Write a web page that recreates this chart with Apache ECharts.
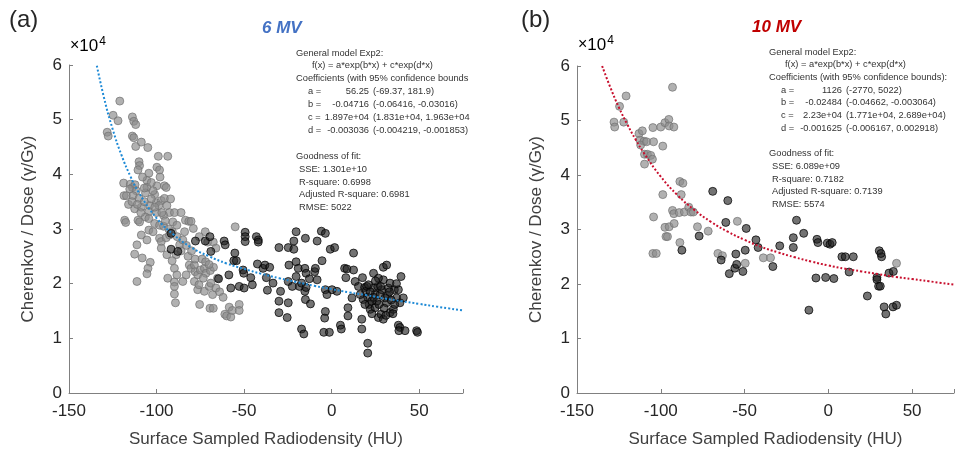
<!DOCTYPE html>
<html>
<head>
<meta charset="utf-8">
<script src="https://cdn.jsdelivr.net/npm/echarts@6/dist/echarts.min.js"></script>
<style>
html,body{margin:0;padding:0;background:#fff;}
#chart{width:957px;height:453px;}
</style>
</head>
<body>
<div id="chart"></div>
<script>
// ---- Data (y in units of 1e4 gamma/Gy) ----
const xTicks = [-150, -100, -50, 0, 50];
const yTicks = [0, 1, 2, 3, 4, 5, 6];

const mv6Light = [
[-121,5.34],[-124.8,5.08],[-122,4.98],[-128.2,4.77],[-127.6,4.70],[-113.8,5.05],[-113,4.97],[-111.9,4.91],
[-113.8,4.70],[-113,4.67],[-111.9,4.51],[-108.7,4.59],[-105,4.49],[-110,4.23],[-109.7,4.16],[-110.6,4.08],
[-99,4.33],[-93.6,4.33],[-99.8,4.13],[-98.3,4.08],[-104.4,4.02],[-118.8,3.84],[-115,3.82],[-113.8,3.76],
[-112.3,3.81],[-115.3,3.73],[-111.6,3.70],[-105.5,3.89],[-105.5,3.76],[-118.6,3.61],[-117.2,3.61],[-113.4,3.61],
[-110,3.56],[-106.3,3.66],[-101.1,3.63],[-99.8,3.79],[-95.5,3.79],[-94.5,3.76],[-100.2,3.48],[-97.3,3.52],
[-95.5,3.56],[-98.7,3.43],[-112.5,3.37],[-108.7,3.40],[-104,3.43],[-104.4,3.32],[-94.1,3.43],[-92.6,3.30],
[-89.8,3.30],[-86,3.30],[-96,3.25],[-106.4,3.22],[-104.4,3.19],[-110.6,3.16],[-109.7,3.13],[-118.2,3.16],
[-117.6,3.12],[-83.5,3.16],[-81.6,3.14],[-80.3,3.14],[-101.1,3.10],[-98.3,3.07],[-90.7,3.13],[-88.4,3.07],
[-79,3.01],[-104.4,2.98],[-108.7,2.89],[-105.5,2.80],[-98.3,2.83],[-97.3,2.77],[-94.5,2.84],[-92.6,2.89],
[-88.2,2.86],[-86.8,2.71],[-72.2,2.95],[-75.6,2.86],[-70.8,2.76],[-67.6,2.76],[-66.1,2.65],[-55.1,3.04],
[-111.2,2.71],[-112.5,2.54],[-108.2,2.47],[-103.6,2.39],[-97.3,2.65],[-94.1,2.53],[-88.8,2.53],[-91.1,2.42],
[-89.8,2.28],[-88.4,2.16],[-81.3,2.34],[-80.3,2.28],[-78.4,2.34],[-78,2.22],[-76.5,2.16],[-75,2.25],
[-72.7,2.28],[-71.8,2.19],[-69.3,2.24],[-67.5,2.30],[-104.9,2.28],[-105.5,2.18],[-111.2,2.04],[-93.6,2.10],
[-89.8,2.03],[-85,2.04],[-89.8,1.95],[-89.8,1.81],[-89.2,1.65],[-78.4,2.04],[-76.5,1.89],[-75.4,1.62],
[-72.7,1.86],[-69.9,1.95],[-68,1.80],[-69.5,1.55],[-67.6,1.55],[-61,1.44],[-60,1.41],[-57.6,1.39],
[-58.5,1.57],[-56.7,1.51],[-52.8,1.62],[-52.8,1.51],[-65.2,2.10],[-69,2.01],[-73.3,2.10],[-75.8,1.98],
[-83.1,2.16],[-66.1,1.92],[-108,3.95],[-102,3.70],[-107,3.50],[-100,3.30],[-96,3.05],[-102,2.95],
[-84,2.95],[-92,3.55],[-116,3.45],[-109,3.30],[-103,3.55],[-98,3.95],[-86,2.60],[-82,2.50],
[-114,3.50],[-111,3.45],[-107,3.75],[-103,3.85],[-101,3.40],[-97,3.30],[-95,3.15],[-93,3.00],
[-91,2.95],[-85,2.80],[-83,2.70],[-80,2.60],[-78,2.45],[-74,2.45],[-72,2.40],[-70,2.35],
[-64,1.85],[-62,1.75]
];
const mv6Dark = [
[-91.7,2.92],[-91.7,2.63],[-87.9,2.59],[-77.8,2.78],[-72.2,2.78],[-69.5,2.86],[-69,2.59],[-61.4,2.78],
[-60.8,2.71],[-55.3,2.56],[-64.6,2.09],[-58.7,2.16],[-55.9,2.42],[-54.4,2.42],[-50.6,2.25],[-50.2,2.19],
[-49.4,2.94],[-49.4,2.86],[-49.4,2.77],[-57.6,1.92],[-52.8,1.95],[-50,1.92],[-43,2.86],[-41.9,2.80],
[-41.9,2.76],[-42.4,2.36],[-39.2,2.28],[-38.1,2.34],[-35.4,2.30],[-33.5,2.01],[-30.1,2.66],[-30.1,1.68],
[-30.1,1.47],[-24.8,2.66],[-24.4,2.34],[-24.8,2.04],[-24.8,1.65],[-21.6,2.78],[-20.3,2.95],[-21.6,2.63],
[-20.3,2.40],[-19.1,2.28],[-20.3,2.13],[-18.4,1.95],[-17.2,2.01],[-15,2.83],[-15.3,2.28],[-14.6,2.19],
[-15.3,1.86],[-15,1.71],[-14.6,1.93],[-17.2,1.17],[-15.9,1.08],[-12.1,1.63],[-12.7,2.09],[-9.7,2.22],
[-8.3,2.78],[-9.3,2.28],[-8.3,2.07],[-5.5,2.42],[-5.9,2.96],[-3.6,2.92],[-3.6,1.89],[-2.7,1.80],
[-3.6,1.49],[-4,1.37],[-4.5,1.11],[-1.3,1.11],[-0.8,2.63],[1.7,2.66],[0.2,1.89],[3,1.86],
[5,1.24],[5.5,1.17],[7.4,2.28],[8.1,2.11],[9.3,1.56],[9.3,1.41],[12.5,2.56],[8.7,2.27],
[12.5,2.25],[13.4,2.04],[15.3,1.95],[17.2,1.17],[17.2,1.35],[17.6,2.11],[18.8,1.93],[19.5,1.86],
[20.6,1.75],[20.1,1.95],[21.4,1.62],[20.6,0.91],[20.6,0.73],[22,1.53],[22.9,1.68],[23.9,1.92],
[24.8,1.80],[25.8,1.68],[26.7,1.38],[28.2,1.44],[29.5,1.35],[27.7,1.80],[28.6,1.89],[29.5,2.07],
[30.5,1.74],[31.4,1.65],[29.5,2.30],[31.4,2.34],[32.4,1.92],[33.3,2.01],[33.3,1.47],[35.2,1.53],
[35.8,1.89],[37.1,1.74],[38.1,1.89],[39,1.65],[39.6,2.13],[40.9,1.74],[38.1,1.24],[39,1.20],
[38.4,1.14],[41.9,1.14],[48.5,1.14],[49,1.11],[24.8,1.56],[26.3,1.95],[23.9,2.19],[26.7,2.10],
[18,1.71],[11.6,1.74],[16.3,1.80],[-37.3,2.11],[-36.7,1.88],[-46.2,2.11],[-45.3,1.98],[-25.4,1.38],
[-29.2,1.86],[-22.5,1.95],
[22,1.85],[24,1.75],[27,1.62],[30,1.55],[32,1.78],[34,1.70],[36,1.62],[25,2.05],
[21,1.98],[28,1.95],[33,1.85],[19,1.62],[23,1.45],[31,1.42],[37,2.00],[35,1.45]
];
const mv10Light = [
[-127.9,4.97],[-127.5,4.88],[-124.6,5.26],[-120.7,5.45],[-122.1,4.97],[-113,4.76],[-111,4.81],[-112.4,4.64],
[-110,4.62],[-112,4.55],[-108.5,4.61],[-109.7,4.38],[-108,4.38],[-109.7,4.20],[-106,4.36],[-105,4.29],
[-104.7,4.87],[-104.3,4.61],[-100,4.88],[-98.8,4.53],[-97.5,4.96],[-95.2,5.02],[-95,4.90],[-92.2,4.88],
[-93,5.61],[-98.8,3.64],[-104.3,3.23],[-104.7,2.56],[-102.7,2.56],[-97.5,3.04],[-95,3.05],[-96.9,2.87],
[-96,2.87],[-93,3.35],[-92.2,3.29],[-92,3.11],[-89,3.31],[-88.6,3.88],[-86.8,3.85],[-87.8,3.64],
[-88.6,2.76],[-85.9,3.32],[-83.3,3.41],[-82,3.32],[-80.6,3.32],[-78.1,3.05],[-71.7,2.97],[-65.9,2.56],
[-63.2,2.52],[-54.3,3.15],[-49.6,2.38],[-38.8,2.48],[-34.5,2.48],[40.7,2.38]
];
const mv10Dark = [
[-69,3.70],[-60,3.53],[-61.2,3.13],[-77.1,2.88],[-87.4,2.62],[-64,2.44],[-59.1,2.19],[-55.8,2.29],
[-55.2,2.55],[-54.7,2.36],[-51,2.23],[-49.6,2.62],[-49,3.02],[-43.2,2.81],[-41.9,2.67],[-33.1,2.32],
[-29,2.70],[-20.9,2.85],[-20.9,2.67],[-19,3.17],[-14.7,2.93],[-11.6,1.52],[-6.8,2.82],[-6.2,2.76],
[-7.4,2.11],[-1.6,2.12],[-0.6,2.75],[1,2.73],[2.3,2.76],[3.3,2.10],[8.1,2.50],[10.1,2.50],
[14.9,2.50],[12.4,2.22],[23.3,1.78],[29,2.12],[29,2.08],[30.4,2.61],[31.8,2.50],[31.4,2.56],
[30,1.96],[31,1.96],[36.2,2.20],[38.8,2.23],[33.3,1.58],[34.3,1.45],[38.6,1.58],[40.7,1.61]
];

// fitted curves
const fitX  = [-135,-130,-125,-120,-115,-110,-100,-90,-80,-70,-60,-50,-40,-30,-20,-10,0,10,20,30,40,50,60,75];
const fit6  = [6.13,5.40,4.82,4.35,3.97,3.66,3.20,2.89,2.66,2.50,2.37,2.27,2.18,2.10,2.03,1.96,1.90,1.84,1.79,1.73,1.68,1.63,1.58,1.51];
const fit10 = [6.00,5.60,5.24,4.93,4.65,4.40,3.97,3.63,3.36,3.14,2.96,2.81,2.68,2.58,2.49,2.41,2.34,2.28,2.23,2.18,2.13,2.09,2.05,1.99];

// fit report texts
const head6 = ["General model Exp2:", "f(x) = a*exp(b*x) + c*exp(d*x)", "Coefficients (with 95% confidence bounds"];
const coef6 = [["a =", "56.25", "(-69.37, 181.9)"], ["b =", "-0.04716", "(-0.06416, -0.03016)"],
               ["c =", "1.897e+04", "(1.831e+04, 1.963e+04"], ["d =", "-0.003036", "(-0.004219, -0.001853)"]];
const gof6  = ["Goodness of fit:", "SSE: 1.301e+10", "R-square: 0.6998", "Adjusted R-square: 0.6981", "RMSE: 5022"];
const head10 = ["General model Exp2:", "f(x) = a*exp(b*x) + c*exp(d*x)", "Coefficients (with 95% confidence bounds):"];
const coef10 = [["a =", "1126", "(-2770, 5022)"], ["b =", "-0.02484", "(-0.04662, -0.003064)"],
                ["c =", "2.23e+04", "(1.771e+04, 2.689e+04)"], ["d =", "-0.001625", "(-0.006167, 0.002918)"]];
const gof10  = ["Goodness of fit:", "SSE: 6.089e+09", "R-square: 0.7182", "Adjusted R-square: 0.7139", "RMSE: 5574"];

// ---- Chart ----
const chart = echarts.init(document.getElementById('chart'), null, {renderer: 'canvas'});
const axisGray = '#808080';
const labelCol = '#262626';
const FONT = 'Liberation Sans, Arial, sans-serif';

function xAxis(idx) {
  return {
    type: 'value', gridIndex: idx, min: -150, max: 75, interval: 50,
    name: 'Surface Sampled Radiodensity (HU)', nameLocation: 'middle', nameGap: 38,
    nameTextStyle: {fontSize: 17, color: '#404040', fontFamily: FONT},
    axisLine: {show: true, onZero: false, lineStyle: {color: axisGray, width: 1}},
    axisTick: {show: true, inside: true, length: 4, lineStyle: {color: axisGray}},
    axisLabel: {fontSize: 17, color: labelCol, fontFamily: FONT, margin: 10,
      formatter: v => (xTicks.indexOf(v) >= 0 ? String(v) : '')},
    splitLine: {show: false}
  };
}
function yAxis(idx) {
  return {
    type: 'value', gridIndex: idx, min: 0, max: 6, interval: 1,
    name: 'Cherenkov / Dose (\u03B3/Gy)', nameLocation: 'middle', nameGap: 32,
    nameTextStyle: {fontSize: 17, color: '#404040', fontFamily: FONT},
    axisLine: {show: true, onZero: false, lineStyle: {color: axisGray, width: 1}},
    axisTick: {show: true, inside: true, length: 4, lineStyle: {color: axisGray}},
    axisLabel: {fontSize: 17, color: labelCol, fontFamily: FONT, margin: 7,
      formatter: v => (yTicks.indexOf(v) >= 0 ? String(v) : '')},
    splitLine: {show: false}
  };
}
const lightStyle = {color: 'rgba(140,140,140,0.85)', borderColor: 'rgba(115,115,115,0.9)', borderWidth: 1};
const darkStyle  = {color: 'rgba(30,30,30,0.78)', borderColor: 'rgba(0,0,0,0.9)', borderWidth: 1};

function txt(s, x, y, align) {
  return {type: 'text', x: x, y: y, silent: true,
    style: {text: s, fontSize: 9.3, fontFamily: FONT, fill: '#333', align: align || 'left', verticalAlign: 'middle'}};
}
function report(head, coef, gof, ox, oy, step) {
  const g = [];
  g.push(txt(head[0], ox, oy));
  g.push(txt(head[1], ox + 16, oy + step));
  g.push(txt(head[2], ox, oy + 2 * step));
  coef.forEach((c, i) => {
    const y = oy + (3 + i) * step;
    g.push(txt(c[0], ox + 12, y));
    g.push(txt(c[1], ox + 73, y, 'right'));
    g.push(txt(c[2], ox + 77, y));
  });
  g.push(txt(gof[0], ox, oy + 8 * step));
  for (let i = 1; i < gof.length; i++) g.push(txt(gof[i], ox + 3, oy + (8 + i) * step));
  return g;
}

const option = {
  animation: false,
  backgroundColor: '#fff',
  grid: [
    {left: 69, top: 65, width: 394, height: 331},
    {left: 577, top: 66, width: 387, height: 330}
  ],
  xAxis: [xAxis(0), xAxis(1)],
  yAxis: [yAxis(0), yAxis(1)],
  series: [
    {type: 'scatter', xAxisIndex: 0, yAxisIndex: 0, data: mv6Light, symbolSize: 8, itemStyle: lightStyle},
    {type: 'scatter', xAxisIndex: 0, yAxisIndex: 0, data: mv6Dark, symbolSize: 8, itemStyle: darkStyle},
    {type: 'line', xAxisIndex: 0, yAxisIndex: 0, data: fitX.map((x, i) => [x, fit6[i]]), smooth: true,
      showSymbol: false, clip: true, lineStyle: {color: '#1e8ad6', width: 2, type: [2, 2]}},
    {type: 'scatter', xAxisIndex: 1, yAxisIndex: 1, data: mv10Light, symbolSize: 8, itemStyle: lightStyle},
    {type: 'scatter', xAxisIndex: 1, yAxisIndex: 1, data: mv10Dark, symbolSize: 8, itemStyle: darkStyle},
    {type: 'line', xAxisIndex: 1, yAxisIndex: 1, data: fitX.map((x, i) => [x, fit10[i]]), smooth: true,
      showSymbol: false, clip: true, lineStyle: {color: '#c8102e', width: 2, type: [2, 2]}}
  ],
  graphic: [
    {type: 'text', left: 9, top: 8, style: {text: '(a)', fontSize: 24, fontFamily: FONT, fill: '#262626'}},
    {type: 'text', left: 521, top: 8, style: {text: '(b)', fontSize: 24, fontFamily: FONT, fill: '#262626'}},
    {type: 'text', left: 262, top: 20, style: {text: '6 MV', fontSize: 17, fontWeight: 'bold', fontStyle: 'italic', fontFamily: FONT, fill: '#4472c4'}},
    {type: 'text', left: 752, top: 19, style: {text: '10 MV', fontSize: 17, fontWeight: 'bold', fontStyle: 'italic', fontFamily: FONT, fill: '#c00000'}},
    {type: 'text', left: 70, top: 36, style: {
      text: '{a|\u00D7}{b|10}{c|4}', fontFamily: FONT,
      rich: {a: {fontSize: 16, color: labelCol}, b: {fontSize: 17, color: labelCol},
             c: {fontSize: 12, color: labelCol, verticalAlign: 'top', padding: [0, 0, 8, 1]}}}},
    {type: 'text', left: 578, top: 35, style: {
      text: '{a|\u00D7}{b|10}{c|4}', fontFamily: FONT,
      rich: {a: {fontSize: 16, color: labelCol}, b: {fontSize: 17, color: labelCol},
             c: {fontSize: 12, color: labelCol, verticalAlign: 'top', padding: [0, 0, 8, 1]}}}},
    ...report(head6, coef6, gof6, 296, 53, 12.9),
    ...report(head10, coef10, gof10, 769, 52, 12.7)
  ]
};
chart.setOption(option);
</script>
</body>
</html>
